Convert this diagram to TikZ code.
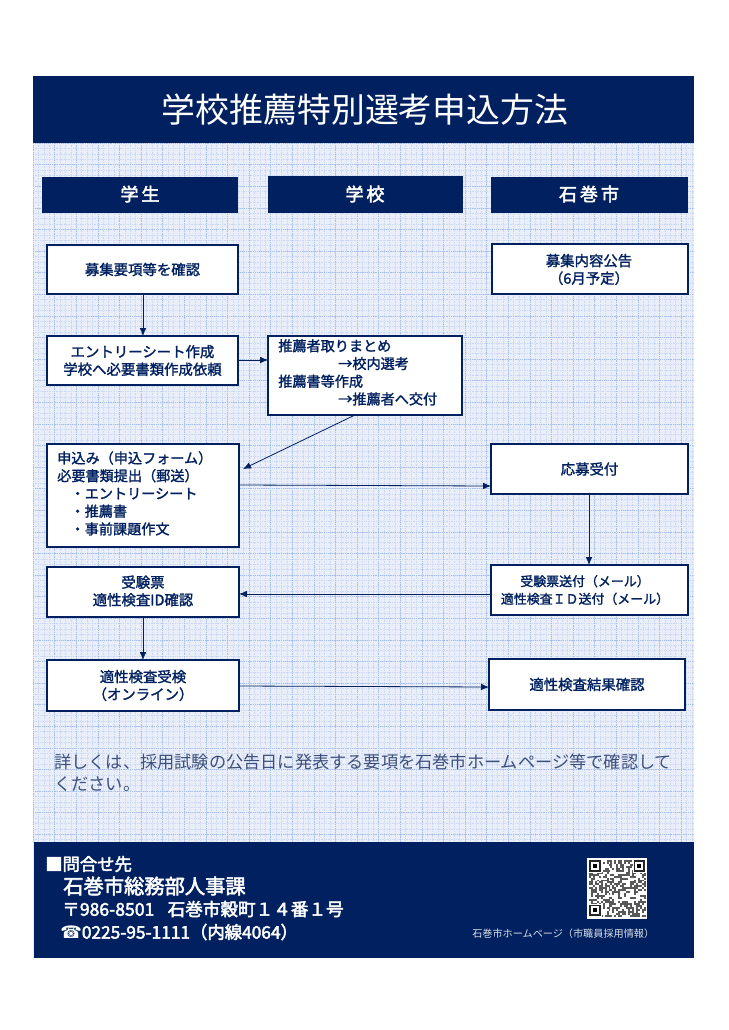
\documentclass[tikz,border=0pt]{standalone}
\usepackage{fontspec}
\setmainfont{Noto Sans CJK JP}[BoldFont={Noto Sans CJK JP},BoldFeatures={FakeBold=1.6}]
\newfontfamily\symfont{DejaVu Sans}
\newfontfamily\whitebold{Noto Sans CJK JP}[FakeBold=2.6]
\usetikzlibrary{arrows.meta}
\definecolor{navy}{HTML}{00205F}
\definecolor{pale}{HTML}{E9EEF8}
\definecolor{gridc}{HTML}{A6BEEA}
\definecolor{notec}{HTML}{3D4F7C}
\tikzset{
 px/.style={x=0.75pt,y=-0.75pt},
 head/.style={text=white,font=\whitebold\fontsize{13.5}{16}\selectfont,inner sep=0pt},
 box/.style={draw=navy,line width=1pt,fill=white},
 lab/.style={text=navy,font=\bfseries\fontsize{10.8}{13.2}\selectfont,align=center,inner sep=0pt},
 labs/.style={text=navy,font=\bfseries\fontsize{9.7}{13.2}\selectfont,align=center,inner sep=0pt},
 labl/.style={text=navy,font=\bfseries\fontsize{10.6}{13.3}\selectfont,align=left,inner sep=0pt,anchor=north west},
 arr/.style={draw=navy,line width=0.6pt,-{Latex[length=6pt,width=5pt]}},
 foot/.style={text=white,anchor=west,inner sep=0pt},
}
\begin{document}
\begin{tikzpicture}[px]
\useasboundingbox (0,0) rectangle (728,1030);
\fill[white] (0,0) rectangle (728,1030);
\fill[pale] (33,76) rectangle (694,958);
\begin{scope}
\clip (33,143) rectangle (694,842);
\foreach \k in {0,...,123} {
  \draw[gridc!60,line width=0.3pt,densely dotted] ({33+\k*5.4},143) -- ({33+\k*5.4},842);
}
\foreach \k in {0,...,130} {
  \draw[gridc!60,line width=0.3pt,densely dotted] (33,{143+\k*5.4}) -- (694,{143+\k*5.4});
}
\foreach \k in {0,...,31} {
  \draw[gridc,line width=0.4pt,densely dotted] ({33+\k*21.6},143) -- ({33+\k*21.6},842);
}
\foreach \k in {0,...,33} {
  \draw[gridc,line width=0.4pt,densely dotted] (33,{143+\k*21.6}) -- (694,{143+\k*21.6});
}
\end{scope}
% bands
\fill[navy] (33,76) rectangle (694,143);
\node[text=white,font=\fontsize{25.4}{30}\selectfont,inner sep=0pt] (title) at (365,110) {学校推薦特別選考申込方法};
\fill[navy] (42,177) rectangle (238,213);
\node[head] (h1) at (140,194) {学\,生};
\fill[navy] (268,176) rectangle (463,213);
\node[head] (h2) at (365,194) {学\,校};
\fill[navy] (491,177) rectangle (688,213);
\node[head] (h3) at (589,194) {石\,巻\,市};
% boxes
\draw[box] (47,245) rectangle (238,294);
\node[lab] (a1) at (142.5,269.5) {募集要項等を確認};
\coordinate (a1b) at (143,294);
\draw[box] (492,244) rectangle (688,294);
\node[lab] (c1) at (589,269.5) {募集内容公告\\（6月予定）};
\draw[box] (47,336) rectangle (238,385);
\node[lab] (a2) at (142.5,360.5) {エントリーシート作成\\学校へ必要書類作成依頼};
\coordinate (a2t) at (143,336);
\coordinate (a2r) at (238,360);
\draw[box] (268,336) rectangle (462,415);
\node[labl] (b1) at (278,339) {推薦者取りまとめ\\\hspace*{45pt}→校内選考\\推薦書等作成\\\hspace*{45pt}→推薦者へ交付};
\coordinate (b1l) at (268,360);
\coordinate (b1b) at (355,415);
\draw[box] (47,444) rectangle (239,547);
\node[labl] (a3) at (57,451) {申込み（申込フォーム）\\必要書類提出（郵送）\\\hspace*{10pt}・エントリーシート\\\hspace*{10pt}・推薦書\\\hspace*{10pt}・事前課題作文};
\coordinate (a3e) at (243,469);
\coordinate (a3r) at (239,485);
\draw[box] (491,444) rectangle (688,494);
\node[lab] (c2) at (589.5,469) {応募受付};
\coordinate (c2l) at (491,486);
\coordinate (c2b) at (589,494);
\draw[box] (47,567) rectangle (239,617);
\node[lab] (a4) at (143,591) {受験票\\適性検査ID確認};
\coordinate (a4r) at (239,594);
\coordinate (a4b) at (143,617);
\draw[box] (491,565) rectangle (688,615);
\node[labs] (c3) at (585,590) {受験票送付（メール）\\適性検査ＩＤ送付（メール）};
\coordinate (c3t) at (589,565);
\coordinate (c3l) at (491,594);
\draw[box] (47,660) rectangle (239,711);
\node[lab] (a5) at (143,685.5) {適性検査受検\\（オンライン）};
\coordinate (a5t) at (143,660);
\coordinate (a5r) at (239,686);
\draw[box] (489,659) rectangle (685,710);
\node[lab] (c4) at (587,684.5) {適性検査結果確認};
\coordinate (c4l) at (489,687);
% arrows
\draw[arr] (a1b) -- (a2t);
\draw[arr] (a2r) -- (b1l);
\draw[arr] (b1b) -- (a3e);
\draw[arr] (a3r) -- (c2l);
\draw[arr] (c2b) -- (c3t);
\draw[arr] (c3l) -- (a4r);
\draw[arr] (a4b) -- (a5t);
\draw[arr] (a5r) -- (c4l);
% note
\node[text=notec,font=\fontsize{12.9}{16.5}\selectfont,align=left,anchor=north west,inner sep=0pt,text width=480pt] (note) at (54,754) {詳しくは、採用試験の公告日に発表する要項を石巻市ホームページ等で確認して\\ください。};
% footer
\fill[navy] (34,842) rectangle (694,958);
\node[foot,font=\whitebold\fontsize{13}{15}\selectfont] (f1) at (45,864) {■問合せ先};
\node[foot,font=\whitebold\fontsize{15.2}{18}\selectfont] (f2) at (63,886) {石巻市総務部人事課};
\node[foot,font=\whitebold\fontsize{13.2}{15}\selectfont] (f3) at (62,909) {〒986-8501\hspace{10pt}石巻市穀町１４番１号};
\node[foot,font=\whitebold\fontsize{13}{15}\selectfont] (f4) at (60,932) {{\symfont ☎}0225-95-1111（内線4064）};
\node[foot,font=\fontsize{7.6}{9}\selectfont,text=white!85!navy] (f5) at (472,934) {石巻市ホームページ（市職員採用情報）};
% QR
\fill[white] (587,858) rectangle (647,919);
\begin{scope}[shift={(587,858)}]
\pgfmathsetseed{11}
\foreach \i in {0,...,28} \foreach \j in {0,...,28} {
  \pgfmathparse{rnd<0.48?1:0}
  \ifnum\pgfmathresult=1
    \fill[black!65] ({2+\i*1.95},{2+\j*1.95}) rectangle +(1.95,1.95);
  \fi
}
\foreach \ox/\oy in {2/2,46.5/2,2/46.5} {
  \fill[white] ({\ox-1},{\oy-1}) rectangle +(13.5,13.5);
  \fill[black!85] (\ox,\oy) rectangle +(11.5,11.5);
  \fill[white] ({\ox+1.8},{\oy+1.8}) rectangle +(7.9,7.9);
  \fill[black] ({\ox+3.6},{\oy+3.6}) rectangle +(4.3,4.3);
}
\end{scope}
\end{tikzpicture}
\end{document}
